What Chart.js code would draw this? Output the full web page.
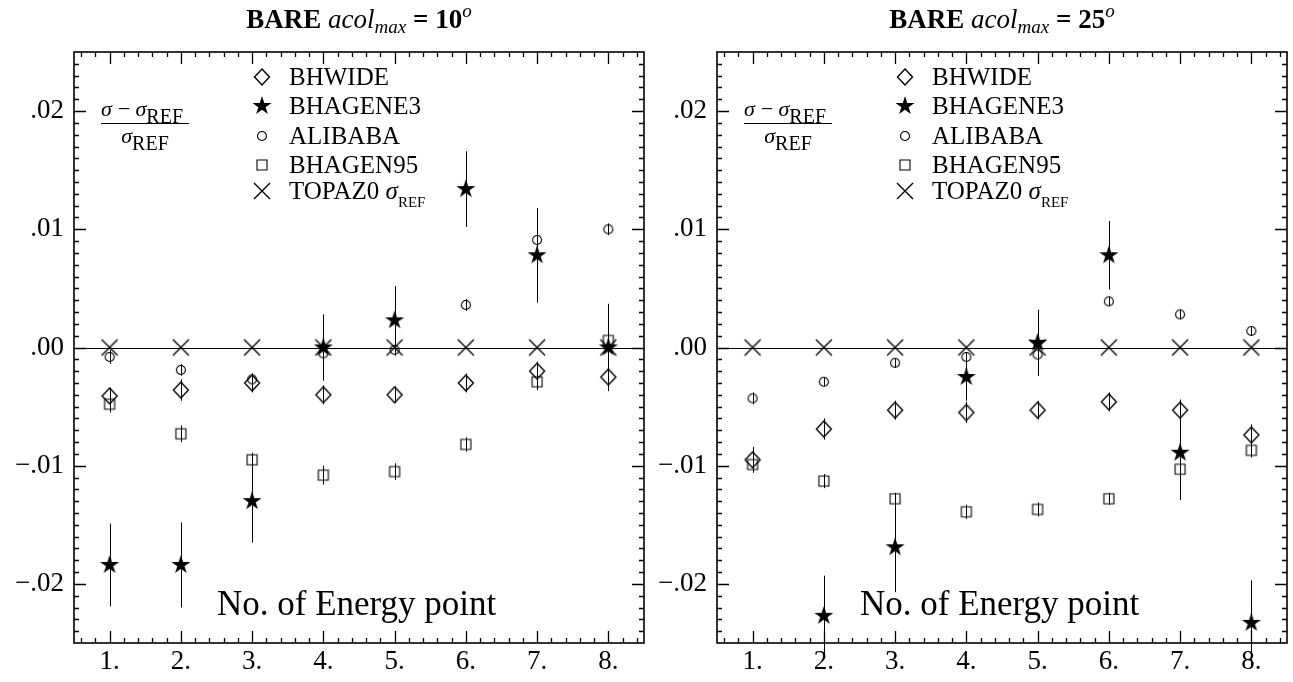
<!DOCTYPE html>
<html>
<head>
<meta charset="utf-8">
<title>BARE acol max</title>
<script src="https://cdn.jsdelivr.net/npm/chart.js@4.4.0/dist/chart.umd.min.js"></script>
<style>
    html, body { margin: 0; padding: 0; background: #fff; }
    #wrap { position: relative; width: 1293px; height: 682px; }
    canvas { position: absolute; top: 0; }
    #left { left: 0; }
    #right { left: 650px; }
</style>
</head>
<body>
<div id="wrap">
    <canvas id="left" width="650" height="682"></canvas>
    <canvas id="right" width="643" height="682"></canvas>
</div>
<script>
// x positions and tick labels
const energyPoints = [1, 2, 3, 4, 5, 6, 7, 8];
const xTickValues = [1, 2, 3, 4, 5, 6, 7, 8];
const xTickLabels = ['1.', '2.', '3.', '4.', '5.', '6.', '7.', '8.'];
const yTickValues = [-0.02, -0.01, 0, 0.01, 0.02];
const yTickLabels = ['\u2212.02', '\u2212.01', '.00', '.01', '.02'];

const seriesNames = ['BHWIDE', 'BHAGENE3', 'ALIBABA', 'BHAGEN95', 'TOPAZ0'];

// acol_max = 10 deg
const bhwide10 = [-0.0041, -0.0036, -0.0030, -0.0040, -0.0040, -0.0030, -0.0020, -0.0025];
const bhwide10Err = [0.0007, 0.0009, 0.0008, 0.0008, 0.0007, 0.0008, 0.0008, 0.0011];
const bhagene310 = [-0.0184, -0.0184, -0.0130, 0.0000, 0.0023, 0.0134, 0.0078, 0.0000];
const bhagene310Err = [0.0035, 0.0036, 0.0035, 0.0028, 0.0029, 0.0032, 0.0040, 0.0037];
const alibaba10 = [-0.0008, -0.0019, -0.0027, -0.0005, -0.0002, 0.0036, 0.0091, 0.0100];
const alibaba10Err = [0.0006, 0.0005, 0.0005, 0.0005, 0.0005, 0.0005, 0.0005, 0.0005];
const bhagen9510 = [-0.0048, -0.0073, -0.0095, -0.0108, -0.0105, -0.0082, -0.0029, 0.0006];
const bhagen9510Err = [0.0007, 0.0007, 0.0006, 0.0008, 0.0007, 0.0006, 0.0007, 0.0006];
const topaz10 = [0, 0, 0, 0, 0, 0, 0, 0];

// acol_max = 25 deg
const bhwide25 = [-0.0095, -0.0069, -0.0053, -0.0055, -0.0053, -0.0046, -0.0053, -0.0074];
const bhwide25Err = [0.0011, 0.0009, 0.0008, 0.0009, 0.0008, 0.0008, 0.0009, 0.0009];
const bhagene325 = [null, -0.0227, -0.0169, -0.0025, 0.0004, 0.0078, -0.0089, -0.0233];
const bhagene325Err = [null, 0.0034, 0.0038, 0.0020, 0.0028, 0.0029, 0.0040, 0.0036];
const alibaba25 = [-0.0043, -0.0029, -0.0013, -0.0008, -0.0006, 0.0039, 0.0028, 0.0014];
const alibaba25Err = [0.0005, 0.0004, 0.0004, 0.0004, 0.0005, 0.0004, 0.0004, 0.0004];
const bhagen9525 = [-0.0099, -0.0113, -0.0128, -0.0139, -0.0137, -0.0128, -0.0103, -0.0087];
const bhagen9525Err = [0.0006, 0.0006, 0.0005, 0.0006, 0.0006, 0.0005, 0.0007, 0.0006];
const topaz25 = [0, 0, 0, 0, 0, 0, 0, 0];

const serif = '"Liberation Serif", "Times New Roman", serif';

/**
 * Marker symbols drawn once on small canvases, used as pointStyle
 */
function markerImage(kind) {
    const s = 28;
    const c = document.createElement('canvas');
    c.width = s;
    c.height = s;
    const g = c.getContext('2d');
    g.translate(s / 2, s / 2);
    g.strokeStyle = '#000';
    g.fillStyle = '#000';
    g.lineWidth = 1.4;
    g.beginPath();
    if (kind === 'diamond') {
        g.moveTo(0, -8); g.lineTo(7.5, 0); g.lineTo(0, 8); g.lineTo(-7.5, 0);
        g.closePath();
        g.stroke();
    } else if (kind === 'star') {
        for (let k = 0; k < 10; k++) {
            const r = k % 2 ? 3.8 : 10;
            const a = -Math.PI / 2 + k * Math.PI / 5;
            if (k === 0) g.moveTo(r * Math.cos(a), r * Math.sin(a));
            else g.lineTo(r * Math.cos(a), r * Math.sin(a));
        }
        g.closePath();
        g.fill();
    } else if (kind === 'circle') {
        g.lineWidth = 1.1;
        g.arc(0, 0, 4.5, 0, Math.PI * 2);
        g.stroke();
    } else if (kind === 'square') {
        g.lineWidth = 1.1;
        g.rect(-5, -5, 10, 10);
        g.stroke();
    } else if (kind === 'cross') {
        g.moveTo(-8, -8); g.lineTo(8, 8);
        g.moveTo(8, -8); g.lineTo(-8, 8);
        g.stroke();
    }
    return c;
}

const markers = {
    diamond: markerImage('diamond'),
    star: markerImage('star'),
    circle: markerImage('circle'),
    square: markerImage('square'),
    cross: markerImage('cross'),
};

// draw a row of text pieces with their own fonts and vertical shifts
function drawRich(ctx, parts, x, y, align) {
    let total = 0;
    parts.forEach(p => {
        ctx.font = p.font;
        p.w = ctx.measureText(p.text).width;
        total += p.w;
    });
    let cx = align === 'center' ? x - total / 2 : x;
    parts.forEach(p => {
        ctx.font = p.font;
        ctx.fillText(p.text, cx, y + (p.dy || 0));
        cx += p.w;
    });
    return total;
}

const framePlugin = {
    id: 'physicsFrame',
    beforeDatasetsDraw(chart) {
        const { ctx, chartArea: a, scales: { x, y } } = chart;
        ctx.save();
        ctx.strokeStyle = '#000';
        ctx.lineWidth = 1;
        ctx.beginPath();
        const y0 = Math.round(y.getPixelForValue(0)) + 0.5;
        ctx.moveTo(a.left, y0);
        ctx.lineTo(a.right, y0);
        ctx.stroke();

        // error bars
        ctx.beginPath();
        chart.data.datasets.forEach(ds => {
            if (!ds.errors) return;
            ds.data.forEach((p, j) => {
                const e = ds.errors[j];
                if (p.y === null || !e) return;
                const px = Math.round(x.getPixelForValue(p.x)) + 0.5;
                ctx.moveTo(px, y.getPixelForValue(p.y + e));
                ctx.lineTo(px, y.getPixelForValue(p.y - e));
            });
        });
        ctx.stroke();
        ctx.restore();
    },
    afterDraw(chart, args, opts) {
        const { ctx, chartArea: a, scales: { x, y } } = chart;
        ctx.save();
        ctx.strokeStyle = '#000';
        ctx.fillStyle = '#000';

        // frame
        ctx.lineWidth = 1.6;
        ctx.strokeRect(a.left, a.top, a.right - a.left, a.bottom - a.top);

        // inward ticks on all four sides
        ctx.lineWidth = 1.3;
        ctx.beginPath();
        for (let k = 3; k <= 42; k++) {
            const v = k / 5;
            const px = Math.round(x.getPixelForValue(v)) + 0.5;
            const len = k % 5 === 0 ? 12 : 5;
            ctx.moveTo(px, a.bottom); ctx.lineTo(px, a.bottom - len);
            ctx.moveTo(px, a.top); ctx.lineTo(px, a.top + len);
        }
        for (let k = -24; k <= 24; k++) {
            const v = k / 1000;
            const py = Math.round(y.getPixelForValue(v)) + 0.5;
            const len = k % 10 === 0 ? 12 : 5;
            ctx.moveTo(a.left, py); ctx.lineTo(a.left + len, py);
            ctx.moveTo(a.right, py); ctx.lineTo(a.right - len, py);
        }
        ctx.stroke();

        // legend inside the frame
        ctx.textAlign = 'left';
        ctx.textBaseline = 'alphabetic';
        const rows = [25, 54, 84, 113, 139];
        const marks = [markers.diamond, markers.star, markers.circle, markers.square, markers.cross];
        seriesNames.forEach((name, i) => {
            const my = a.top + rows[i];
            const img = marks[i];
            ctx.drawImage(img, a.left + 188 - img.width / 2, my - img.height / 2);
            const parts = [{ text: name, font: '25px ' + serif }];
            if (i === 4) {
                parts[0].text = name + ' ';
                parts.push({ text: '\u03c3', font: 'italic 25px ' + serif });
                parts.push({ text: 'REF', font: '15px ' + serif, dy: 8 });
            }
            drawRich(ctx, parts, a.left + 215, my + 8, 'left');
        });

        // fraction label
        const fx = a.left + 27;
        drawRich(ctx, [
            { text: '\u03c3\u2009\u2212\u2009\u03c3', font: 'italic 22px ' + serif },
            { text: 'REF', font: '20px ' + serif, dy: 7 },
        ], fx, a.top + 64, 'left');
        ctx.lineWidth = 1.2;
        ctx.beginPath();
        ctx.moveTo(fx, a.top + 71.5);
        ctx.lineTo(fx + 88, a.top + 71.5);
        ctx.stroke();
        drawRich(ctx, [
            { text: '\u03c3', font: 'italic 22px ' + serif },
            { text: 'REF', font: '20px ' + serif, dy: 7 },
        ], fx + 44, a.top + 91, 'center');

        // axis caption
        ctx.font = '35px ' + serif;
        ctx.fillText('No. of Energy point', a.left + 143, a.top + 563);

        // title
        const cx = (a.left + a.right) / 2;
        drawRich(ctx, [
            { text: 'BARE ', font: 'bold 27px ' + serif },
            { text: 'acol', font: 'italic 27px ' + serif },
            { text: 'max', font: 'italic 19px ' + serif, dy: 5 },
            { text: ' = ' + opts.angle, font: 'bold 27px ' + serif },
            { text: 'o', font: 'italic 19px ' + serif, dy: -11 },
        ], cx, 28, 'center');
        ctx.restore();
    },
};

function points(values) {
    return energyPoints.map((xv, i) => ({ x: xv, y: values[i] }));
}

function makePanel(canvasId, angle, leftWidth, rightPad, sets) {
    const canvas = document.getElementById(canvasId);
    const styles = [markers.diamond, markers.star, markers.circle, markers.square, markers.cross];
    const datasets = sets.map((s, i) => ({
        label: seriesNames[i],
        data: points(s.values),
        errors: s.errors,
        pointStyle: styles[i],
        showLine: false,
    }));

    return new Chart(canvas, {
        type: 'scatter',
        data: { datasets: datasets },
        options: {
            responsive: false,
            animation: false,
            devicePixelRatio: 1,
            layout: {
                padding: { top: 52, right: rightPad, bottom: 0, left: 0 },
            },
            plugins: {
                legend: { display: false },
                tooltip: { enabled: false },
                physicsFrame: { angle: angle },
            },
            scales: {
                x: {
                    type: 'linear',
                    min: 0.5,
                    max: 8.5,
                    grid: { display: false, drawTicks: false },
                    border: { display: false },
                    afterBuildTicks: s => { s.ticks = xTickValues.map(v => ({ value: v })); },
                    afterFit: s => { s.height = 39; },
                    ticks: {
                        autoSkip: false,
                        maxRotation: 0,
                        padding: 3,
                        color: '#000',
                        font: { family: serif, size: 27 },
                        callback: (v, i) => xTickLabels[i],
                    },
                },
                y: {
                    type: 'linear',
                    min: -0.025,
                    max: 0.025,
                    grid: { display: false, drawTicks: false },
                    border: { display: false },
                    afterBuildTicks: s => { s.ticks = yTickValues.map(v => ({ value: v })); },
                    afterFit: s => { s.width = leftWidth; },
                    ticks: {
                        autoSkip: false,
                        padding: 10,
                        color: '#000',
                        font: { family: serif, size: 27 },
                        callback: (v, i) => yTickLabels[i],
                    },
                },
            },
        },
        plugins: [framePlugin],
    });
}

makePanel('left', 10, 74, 6, [
    { values: bhwide10, errors: bhwide10Err },
    { values: bhagene310, errors: bhagene310Err },
    { values: alibaba10, errors: alibaba10Err },
    { values: bhagen9510, errors: bhagen9510Err },
    { values: topaz10, errors: null },
]);

makePanel('right', 25, 67, 6, [
    { values: bhwide25, errors: bhwide25Err },
    { values: bhagene325, errors: bhagene325Err },
    { values: alibaba25, errors: alibaba25Err },
    { values: bhagen9525, errors: bhagen9525Err },
    { values: topaz25, errors: null },
]);
</script>
</body>
</html>
